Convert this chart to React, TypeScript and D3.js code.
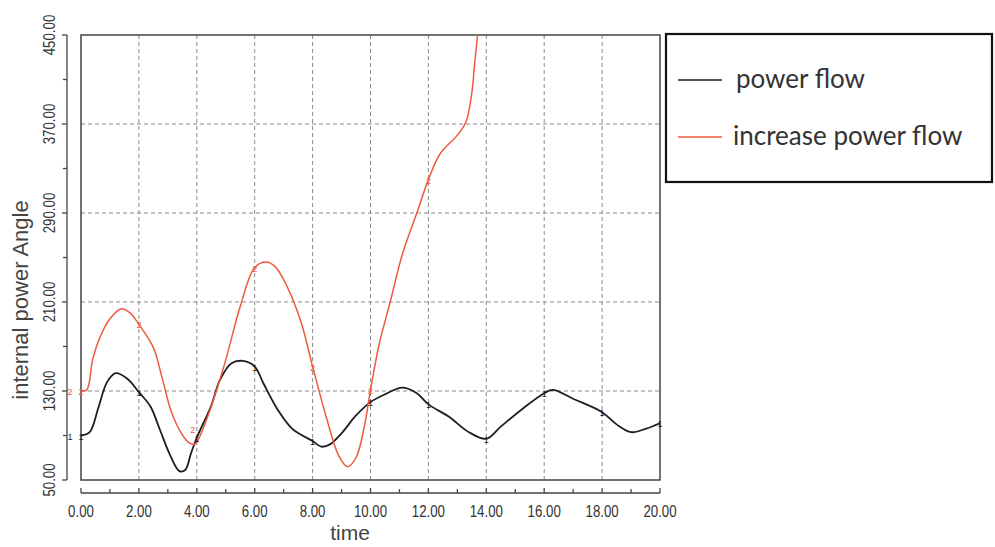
import React from "react";
import * as d3 from "d3";

// time axis (s) and angle values
const powerFlowTime = [0, 0.3, 0.6, 0.9, 1.2, 1.6, 2, 2.4, 2.7, 3.05, 3.4, 3.6, 3.8, 4, 4.5, 4.8, 5.2, 5.6, 6, 6.3, 6.8, 7.3, 8, 8.3, 8.6, 9, 9.5, 10, 10.5, 11.1, 11.6, 12, 12.7, 13.4, 14, 14.5, 15.3, 16, 16.3, 17, 18, 18.5, 19, 19.5, 20];
const powerFlowAngle = [90, 93, 115, 138, 146, 141, 129, 116, 97, 74, 58, 59, 74, 88, 117, 140, 155, 157, 152, 137, 113, 96, 85, 80, 82, 92, 108, 120, 127, 133, 128, 118, 107, 93, 87, 98, 115, 128, 131, 123, 111, 100, 93, 96, 101];

const increaseTime = [0, 0.2, 0.4, 0.65, 1.0, 1.4, 1.7, 2, 2.5, 2.8, 3.1, 3.4, 3.7, 3.9, 4.0, 4.2, 4.6, 5.0, 5.5, 6.0, 6.4, 6.7, 7.1, 7.6, 8.0, 8.5, 8.9, 9.2, 9.5, 9.8, 10, 10.3, 10.7, 11.1, 11.6, 12, 12.4, 13, 13.3, 13.5, 13.6, 13.7, 13.8];
const increaseAngle = [130, 131, 158, 178, 195, 204, 200, 190, 169, 142, 113, 95, 84, 82, 84, 95, 124, 158, 206, 241, 246, 242, 225, 192, 152, 104, 72, 62, 70, 100, 131, 172, 212, 253, 290, 320, 343, 360, 372, 398, 425, 450, 478];

const yTicks = [50, 130, 210, 290, 370, 450];
const yMinor = [90, 170, 250, 330, 410];
const xTicks = [0, 2, 4, 6, 8, 10, 12, 14, 16, 18, 20];
const xMinor = [1, 3, 5, 7, 9, 11, 13, 15, 17, 19];

const seriesNames = ["power flow", "increase power flow"];
const seriesColors = ["#1e1e1e", "#ee5a3f"];

const W = 995;
const H = 547;
const plot = { left: 81, right: 660, top: 35, bottom: 480 };

const App = () => {
  const x = d3.scaleLinear().domain([0, 20]).range([plot.left, plot.right]);
  const y = d3.scaleLinear().domain([50, 450]).range([plot.bottom, plot.top]);

  const line = d3
    .line<[number, number]>()
    .x((d) => x(d[0]))
    .y((d) => y(d[1]))
    .curve(d3.curveCatmullRom.alpha(0.5));

  const black = powerFlowTime.map((t, i) => [t, powerFlowAngle[i]] as [number, number]);
  const red = increaseTime.map((t, i) => [t, increaseAngle[i]] as [number, number]);

  // markers sit on the even time steps
  const blackMarks = black.filter((d) => d[0] % 2 === 0);
  const redMarks = red.filter((d) => d[0] % 2 === 0 && d[1] <= 450);

  const yAxisX = 67;
  const xAxisY = 493;
  const tickFont = "'Liberation Sans', Arial, sans-serif";
  const narrow = 0.78;

  return (
    <svg width={W} height={H} style={{ position: "absolute", left: 0, top: 0, background: "#fff" }}>
      <defs>
        <clipPath id="plot-clip">
          <rect x={plot.left} y={plot.top} width={plot.right - plot.left} height={plot.bottom - plot.top} />
        </clipPath>
      </defs>

      {/* grid */}
      <g stroke="#8a8a8a" strokeWidth={1} strokeDasharray="4,3">
        {xTicks.slice(1, -1).map((t) => (
          <line key={"gx" + t} x1={x(t)} x2={x(t)} y1={plot.top} y2={plot.bottom} />
        ))}
        {yTicks.slice(1, -1).map((v) => (
          <line key={"gy" + v} x1={plot.left} x2={plot.right} y1={y(v)} y2={y(v)} />
        ))}
      </g>

      <rect
        x={plot.left}
        y={plot.top}
        width={plot.right - plot.left}
        height={plot.bottom - plot.top}
        fill="none"
        stroke="#444"
        strokeWidth={1.5}
      />

      {/* y axis */}
      <g stroke="#444" strokeWidth={1.3}>
        <line x1={yAxisX} x2={yAxisX} y1={y(450)} y2={y(50)} />
        {yTicks.map((v) => (
          <line key={"yt" + v} x1={yAxisX - 5} x2={yAxisX} y1={y(v)} y2={y(v)} />
        ))}
        {yMinor.map((v) => (
          <line key={"ym" + v} x1={yAxisX - 4} x2={yAxisX} y1={y(v)} y2={y(v)} />
        ))}
      </g>
      {yTicks.map((v) => (
        <text
          key={"yl" + v}
          transform={`translate(${yAxisX - 12},${y(v)}) rotate(-90) scale(${narrow},1)`}
          textAnchor="middle"
          fontFamily={tickFont}
          fontSize={17}
          fill="#333"
        >
          {v.toFixed(2)}
        </text>
      ))}

      {/* x axis */}
      <g stroke="#444" strokeWidth={1.3}>
        <line x1={x(0)} x2={x(20)} y1={xAxisY} y2={xAxisY} />
        {xTicks.map((t) => (
          <line key={"xt" + t} x1={x(t)} x2={x(t)} y1={xAxisY - 5} y2={xAxisY} />
        ))}
        {xMinor.map((t) => (
          <line key={"xm" + t} x1={x(t)} x2={x(t)} y1={xAxisY - 4} y2={xAxisY} />
        ))}
      </g>
      {xTicks.map((t) => (
        <text
          key={"xl" + t}
          transform={`translate(${x(t)},${xAxisY + 24}) scale(${narrow},1)`}
          textAnchor="middle"
          fontFamily={tickFont}
          fontSize={17}
          fill="#333"
        >
          {t.toFixed(2)}
        </text>
      ))}

      <text x={350} y={540} textAnchor="middle" fontFamily={tickFont} fontSize={21} fill="#444">
        time
      </text>
      <text
        transform="translate(28,300) rotate(-90)"
        textAnchor="middle"
        fontFamily={tickFont}
        fontSize={22}
        fill="#444"
      >
        internal power Angle
      </text>

      {/* series */}
      <g clipPath="url(#plot-clip)" fill="none">
        <path d={line(black) ?? ""} stroke={seriesColors[0]} strokeWidth={1.8} />
        <path d={line(red) ?? ""} stroke={seriesColors[1]} strokeWidth={1.5} />
      </g>
      {blackMarks.map((d) => (
        <text key={"bm" + d[0]} x={x(d[0])} y={y(d[1]) + 4} textAnchor="middle" fontFamily="sans-serif" fontSize={9} fill={seriesColors[0]}>
          1
        </text>
      ))}
      {redMarks.map((d) => (
        <text
          key={"rm" + d[0]}
          x={x(d[0]) - (d[0] === 4 ? 4 : 0)}
          y={y(d[1]) + (d[0] === 4 ? -9 : 4)}
          textAnchor="middle"
          fontFamily="sans-serif"
          fontSize={9}
          fill={seriesColors[1]}
        >
          2
        </text>
      ))}
      <text x={yAxisX + 3} y={y(powerFlowAngle[0]) + 4} textAnchor="middle" fontFamily="sans-serif" fontSize={9} fill={seriesColors[0]}>
        1
      </text>
      <text x={yAxisX + 3} y={y(increaseAngle[0]) + 4} textAnchor="middle" fontFamily="sans-serif" fontSize={9} fill={seriesColors[1]}>
        2
      </text>

      {/* legend */}
      <rect x={666} y={34} width={326} height={148} fill="#fff" stroke="#111" strokeWidth={2.2} />
      {seriesNames.map((name, i) => (
        <g key={name} transform={`translate(678,${80 + i * 57})`}>
          <line x1={0} x2={44} y1={0} y2={0} stroke={seriesColors[i]} strokeWidth={1.4} />
          <text x={i === 0 ? 58 : 55} y={8} fontFamily="Lato, 'Open Sans', sans-serif" fontSize={26} fill="#333">
            {name}
          </text>
        </g>
      ))}
    </svg>
  );
};

export default App;
